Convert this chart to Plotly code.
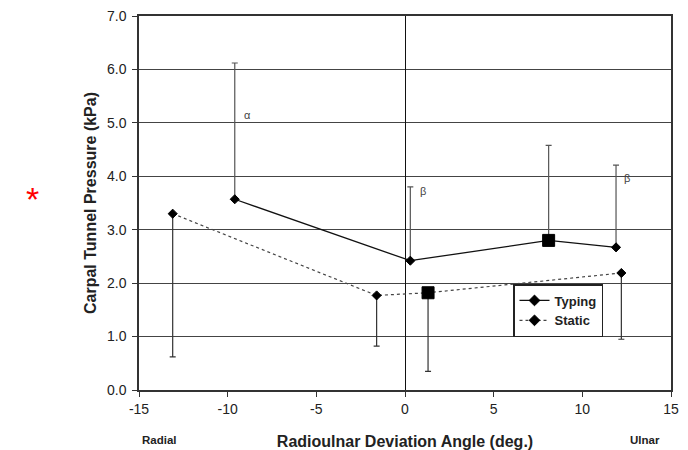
import plotly.graph_objects as go

# Radioulnar deviation angle (deg.) and carpal tunnel pressure (kPa)
typing_angle = [-9.6, 0.3, 8.1, 11.9]
typing_pressure = [3.57, 2.42, 2.80, 2.67]
typing_sd_up = [2.55, 1.38, 1.78, 1.54]
typing_symbol = ["diamond", "diamond", "square", "diamond"]

static_angle = [-13.1, -1.6, 1.3, 12.2]
static_pressure = [3.30, 1.77, 1.82, 2.19]
static_sd_down = [2.68, 0.95, 1.47, 1.24]
static_symbol = ["diamond", "diamond", "square", "diamond"]

sig_labels = ["α", "β", "β"]
sig_x = [-8.9, 1.0, 12.5]
sig_y = [5.15, 3.72, 3.97]

x_ticks = [-15, -10, -5, 0, 5, 10, 15]
y_ticks = [0, 1, 2, 3, 4, 5, 6, 7]

FONT = "Liberation Sans, Arial, sans-serif"
TXT = "#222222"

# plot area in pixels (left, right, top, bottom)
PL, PR, PT, PB = 139, 671, 16, 390


def px(x, y):
    """Figure pixel position -> paper coordinates."""
    return (x - PL) / (PR - PL), (PB - y) / (PB - PT)


def sizes(symbols):
    return [12 if s == "square" else 7 for s in symbols]


fig = go.Figure()

fig.add_trace(go.Scatter(
    x=typing_angle, y=typing_pressure, name="Typing",
    mode="lines+markers",
    line=dict(color="#111111", width=1.3),
    marker=dict(symbol=typing_symbol, size=sizes(typing_symbol), color="#000000",
                opacity=1, line=dict(color="#000000", width=1)),
    error_y=dict(type="data", symmetric=False, array=typing_sd_up,
                 arrayminus=[0] * len(typing_sd_up),
                 color="#555555", thickness=1.2, width=3),
))

fig.add_trace(go.Scatter(
    x=static_angle, y=static_pressure, name="Static",
    mode="lines+markers",
    line=dict(color="#444444", width=1.2, dash="dot"),
    marker=dict(symbol=static_symbol, size=sizes(static_symbol), color="#000000",
                opacity=1, line=dict(color="#000000", width=1)),
    error_y=dict(type="data", symmetric=False, array=[0] * len(static_sd_down),
                 arrayminus=static_sd_down,
                 color="#333333", thickness=1.2, width=3),
))

annotations = [
    dict(x=x, y=y, text=t, showarrow=False, xref="x", yref="y",
         font=dict(family=FONT, size=11, color="#444444"))
    for t, x, y in zip(sig_labels, sig_x, sig_y)
]

for text, cx, cy in [("Radial", 159, 440), ("Ulnar", 645, 440)]:
    ax, ay = px(cx, cy)
    annotations.append(dict(
        x=ax, y=ay, xref="paper", yref="paper", text=text, showarrow=False,
        xanchor="center", yanchor="middle",
        font=dict(family=FONT, size=11.5, color=TXT, weight="bold"),
    ))

ax, ay = px(32, 199)
annotations.append(dict(
    x=ax, y=ay, xref="paper", yref="paper", text="*", showarrow=False,
    xanchor="center", yanchor="middle",
    font=dict(family=FONT, size=34, color="#ff0000"),
))

lx, ly = px(513, 284)

fig.update_layout(
    width=688, height=450,
    margin=dict(l=PL, r=688 - PR, t=PT, b=450 - PB),
    paper_bgcolor="white", plot_bgcolor="white",
    font=dict(family=FONT, color=TXT),
    showlegend=True,
    legend=dict(
        x=lx, y=ly, xanchor="left", yanchor="top",
        bgcolor="white", bordercolor="#222222", borderwidth=1.5,
        font=dict(family=FONT, size=13, color=TXT, weight="bold"),
        tracegroupgap=0, itemwidth=30,
    ),
    annotations=annotations,
    xaxis=dict(
        range=[-15, 15], tickvals=x_ticks, ticktext=[str(v) for v in x_ticks],
        showgrid=False, zeroline=True, zerolinecolor="#111111", zerolinewidth=1,
        showline=True, linecolor="#333333", linewidth=1.5, mirror=True,
        ticks="outside", ticklen=5, tickcolor="#333333", automargin=False,
        tickfont=dict(family=FONT, size=14, color=TXT),
        title=dict(text="Radioulnar Deviation Angle (deg.)", standoff=20,
                   font=dict(family=FONT, size=16, color=TXT, weight="bold")),
    ),
    yaxis=dict(
        range=[0, 7], tickvals=y_ticks, ticktext=[f"{v:.1f}" for v in y_ticks],
        showgrid=True, gridcolor="#444444", gridwidth=1.4, zeroline=False,
        showline=True, linecolor="#333333", linewidth=1.5, mirror=True,
        ticks="outside", ticklen=5, tickcolor="#333333", ticklabelstandoff=3,
        automargin=False,
        tickfont=dict(family=FONT, size=14, color=TXT),
        title=dict(text="Carpal Tunnel Pressure (kPa)", standoff=6,
                   font=dict(family=FONT, size=16, color=TXT, weight="bold")),
    ),
)

fig.write_html("out.html")
